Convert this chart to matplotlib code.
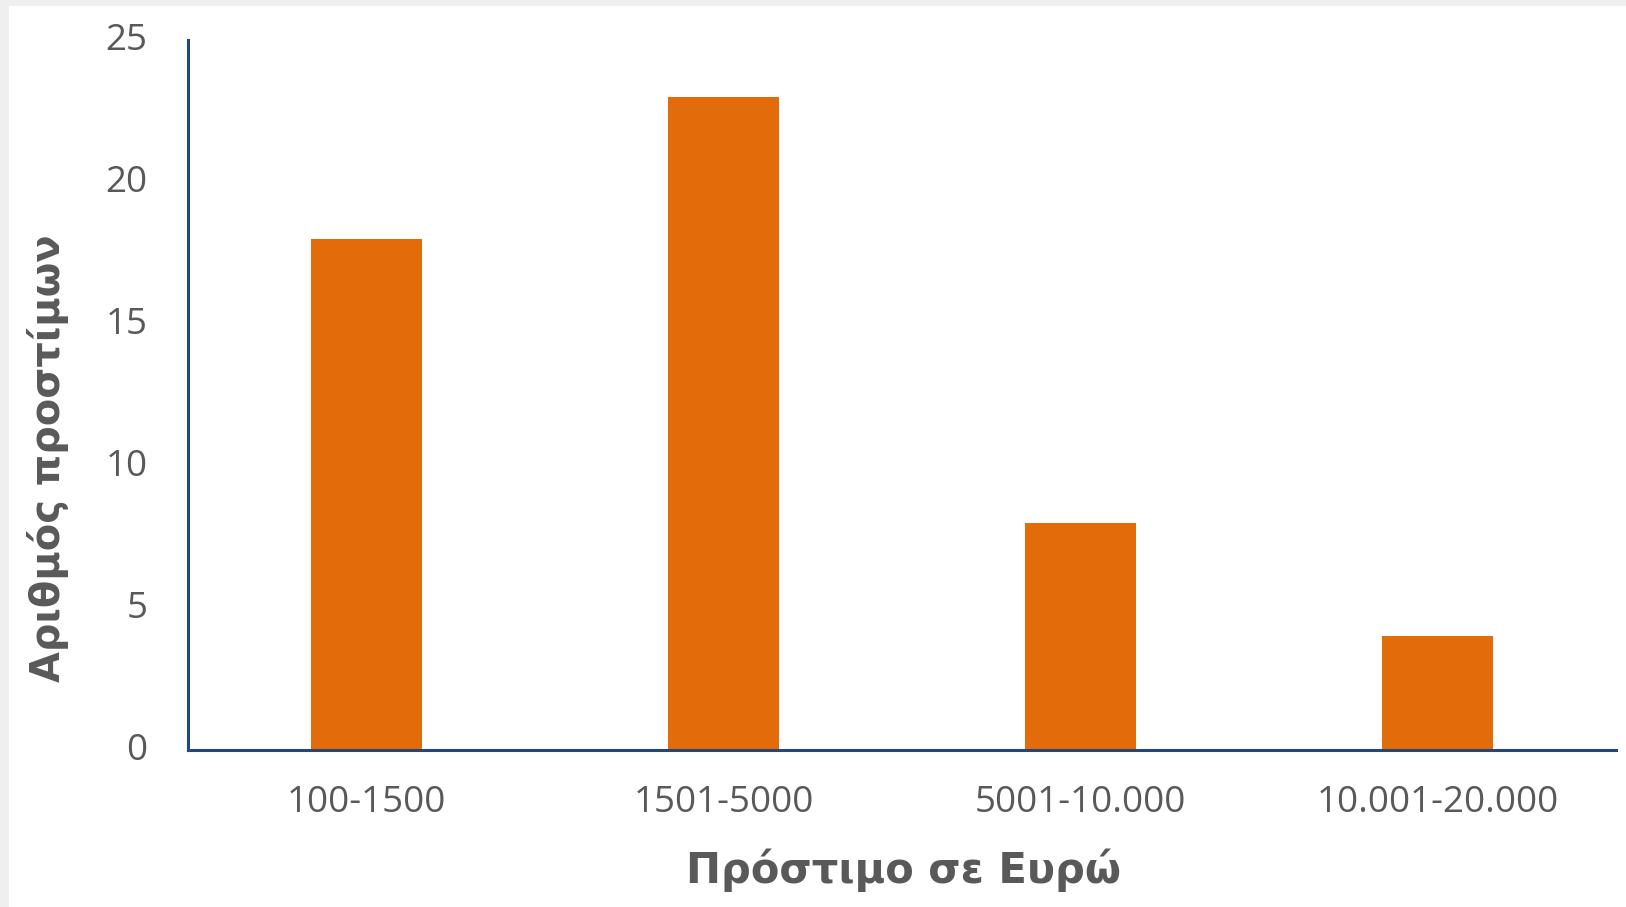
import matplotlib
matplotlib.use("Agg")
import matplotlib.pyplot as plt
import matplotlib.transforms as mtransforms
from matplotlib.patches import Rectangle

# Data
categories = ["100-1500", "1501-5000", "5001-10.000", "10.001-20.000"]
counts = [18, 23, 8, 4]
y_ticks = [0, 5, 10, 15, 20, 25]

bar_color = "#E36C0A"
axis_color = "#24477A"
text_color = "#595959"

plt.rcParams["font.family"] = ["Open Sans", "DejaVu Sans"]

W, H = 1626, 907
fig = plt.figure(figsize=(W / 100, H / 100), dpi=100)
fig.patch.set_facecolor("#EFEFEF")
# white card with a faint grey margin on the left and top
fig.patches.append(Rectangle((9 / W, 0), 1, (H - 6) / H, transform=fig.transFigure,
                             facecolor="white", edgecolor="none", zorder=-10))

ax = fig.add_axes([188 / W, (H - 750) / H, 1428 / W, 710 / H])
ax.set_facecolor("none")

ax.bar(range(len(categories)), counts, width=0.31, color=bar_color, zorder=2)

ax.set_xlim(-0.5, len(categories) - 0.5)
ax.set_ylim(0, 25)
ax.set_xticks(range(len(categories)))
ax.set_xticklabels(categories)
ax.set_yticks(y_ticks)

for side in ["top", "right"]:
    ax.spines[side].set_visible(False)
for side in ["left", "bottom"]:
    ax.spines[side].set_color(axis_color)
    ax.spines[side].set_linewidth(2.2)

ax.tick_params(axis="both", length=0, labelsize=26.5, labelcolor=text_color)
ax.tick_params(axis="y", pad=29)
ax.tick_params(axis="x", pad=25.5)

# y tick labels sit a little above their gridline in the original
shift = mtransforms.ScaledTranslation(0, 3 / 100, fig.dpi_scale_trans)
for lbl in ax.get_yticklabels():
    lbl.set_transform(lbl.get_transform() + shift)

fig.text(903 / W, 1 - 870 / H, "Πρόστιμο σε Ευρώ", ha="center", va="center",
         fontsize=30, fontweight="bold", color=text_color, family="DejaVu Sans")
fig.text(48 / W, 1 - 458 / H, "Αριθμός προστίμων", ha="center", va="center",
         rotation=90, fontsize=28.7, fontweight="bold", color=text_color,
         family="DejaVu Sans")

fig.savefig("out.png", dpi=100, facecolor=fig.get_facecolor())
